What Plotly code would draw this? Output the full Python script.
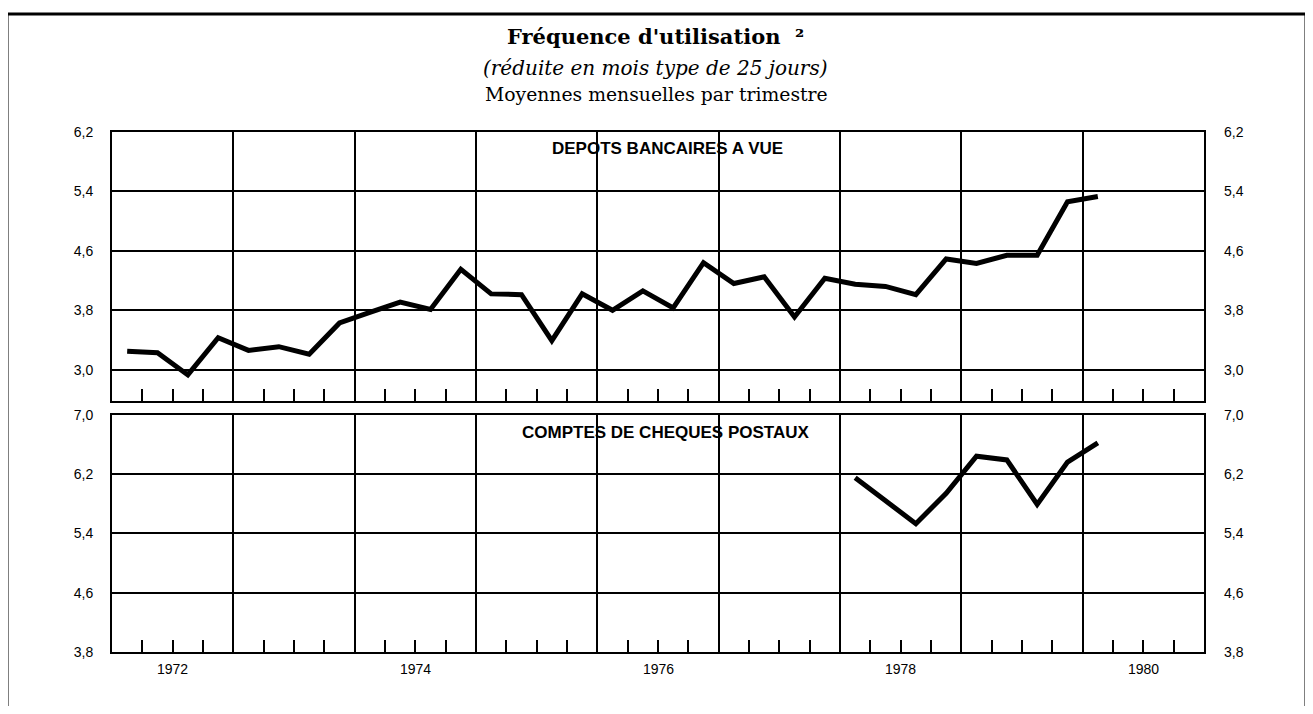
import plotly.graph_objects as go

# ---------------- data ----------------
years = [1972, 1973, 1974, 1975, 1976, 1977, 1978, 1979, 1980]
label_years = [1972, 1974, 1976, 1978, 1980]

# DEPOTS BANCAIRES A VUE, quarterly from 1972 T1 to 1980 T1
depots_start = (1972, 1)
depots = [3.25, 3.23, 2.93, 3.43, 3.26, 3.31, 3.21, 3.63,
          3.77, 3.91, 3.81, 4.35, 4.02, 4.01, 3.39, 4.02,
          3.80, 4.06, 3.83, 4.44, 4.16, 4.25, 3.71, 4.23,
          4.15, 4.12, 4.01, 4.49, 4.43, 4.54, 4.54, 5.26,
          5.33]

# COMPTES DE CHEQUES POSTAUX, quarterly from 1978 T1 to 1980 T1
ccp_start = (1978, 1)
ccp = [6.15, 5.84, 5.53, 5.94, 6.44, 6.39, 5.79, 6.36, 6.62]

top_ticks = [3.0, 3.8, 4.6, 5.4, 6.2]
bot_ticks = [3.8, 4.6, 5.4, 6.2, 7.0]


def quarter_x(start, n):
    y0, q0 = start
    out = []
    for i in range(n):
        k = (q0 - 1) + i
        out.append(y0 + k // 4 + ((k % 4) + 0.5) / 4.0)
    return out


x_dep = quarter_x(depots_start, len(depots))
x_ccp = quarter_x(ccp_start, len(ccp))

# page body has an 8px margin: figure placed at (8, 8)
OFF = 8
FW, FH = 1313 - 2 * OFF, 714 - 2 * OFF


def px(x):
    return (x - OFF) / FW


def py(y):
    return 1 - (y - OFF) / FH


SANS = "Liberation Sans, Arial, sans-serif"
TICKFONT = dict(family=SANS, size=14, color="black")
SERIF = "DejaVu Serif, Liberation Serif, serif"

fig = go.Figure()
line_style = dict(color="black", width=5)
fig.add_trace(go.Scatter(x=x_dep, y=depots, mode="lines", line=line_style,
                         xaxis="x2", yaxis="y2", showlegend=False, hoverinfo="skip"))
fig.add_trace(go.Scatter(x=x_ccp, y=ccp, mode="lines", line=line_style,
                         xaxis="x", yaxis="y", showlegend=False, hoverinfo="skip"))
# invisible traces for the right-hand axes
fig.add_trace(go.Scatter(x=x_dep, y=depots, mode="lines", line=dict(color="rgba(0,0,0,0)", width=0),
                         xaxis="x2", yaxis="y4", showlegend=False, hoverinfo="skip"))
fig.add_trace(go.Scatter(x=x_ccp, y=ccp, mode="lines", line=dict(color="rgba(0,0,0,0)", width=0),
                         xaxis="x", yaxis="y3", showlegend=False, hoverinfo="skip"))

xdom = [px(112), px(1204)]
ydom_bot = [py(659), py(416)]
ydom_top = [py(402), py(126.5)]

xcommon = dict(
    domain=xdom, range=[years[0], years[-1] + 1], tickmode="linear", tick0=years[0], dtick=1,
    showgrid=True, gridcolor="black", gridwidth=1.5, showticklabels=False, ticks="",
    zeroline=False, showline=True, mirror=True, linecolor="black", linewidth=2,
    minor=dict(tickmode="linear", tick0=years[0], dtick=0.25, ticks="inside", ticklen=12,
               tickwidth=1.5, tickcolor="black", showgrid=False),
)

ycommon = dict(
    tickmode="array", tickformat=".1f", showgrid=True, gridcolor="black", gridwidth=2,
    zeroline=False, showline=True, mirror=True, linecolor="black", linewidth=2,
    ticks="", tickfont=TICKFONT, ticklabelstandoff=14,
)

fig.update_layout(
    width=FW, height=FH,
    margin=dict(l=0, r=0, t=0, b=0),
    paper_bgcolor="white", plot_bgcolor="white",
    separators=", ",
    xaxis=dict(**xcommon, anchor="y"),
    xaxis2=dict(**xcommon, anchor="y2", matches="x"),
    yaxis=dict(**ycommon, domain=ydom_bot, range=[3.8, 7.0], tickvals=bot_ticks, anchor="x"),
    yaxis2=dict(**ycommon, domain=ydom_top, range=[2.58, 6.2], tickvals=top_ticks, anchor="x2"),
    yaxis3=dict(overlaying="y", side="right", anchor="x", range=[3.8, 7.0], tickvals=bot_ticks,
                tickformat=".1f", showgrid=False, zeroline=False, showline=False, ticks="",
                tickfont=TICKFONT, ticklabelstandoff=19),
    yaxis4=dict(overlaying="y2", side="right", anchor="x2", range=[2.58, 6.2], tickvals=top_ticks,
                tickformat=".1f", showgrid=False, zeroline=False, showline=False, ticks="",
                tickfont=TICKFONT, ticklabelstandoff=19),
)

annotations = []
for yr in label_years:
    annotations.append(dict(x=yr + 0.5, xref="x", y=py(676), yref="paper",
                            text=str(yr), showarrow=False, font=TICKFONT,
                            xanchor="center", yanchor="middle"))

annotations += [
    dict(x=px(655), y=py(29), xref="paper", yref="paper", showarrow=False,
         text="<b>Fréquence d'utilisation\u00a0\u00a0²</b>",
         font=dict(family=SERIF, size=21, color="black"), xanchor="center", yanchor="middle"),
    dict(x=px(655), y=py(61), xref="paper", yref="paper", showarrow=False,
         text="<i>(réduite en mois type de 25 jours)</i>",
         font=dict(family=SERIF, size=20, color="black"), xanchor="center", yanchor="middle"),
    dict(x=px(656), y=py(88), xref="paper", yref="paper", showarrow=False,
         text="Moyennes mensuelles par trimestre",
         font=dict(family=SERIF, size=18.8, color="black"), xanchor="center", yanchor="middle"),
    dict(x=px(667), y=py(144), xref="paper", yref="paper", showarrow=False,
         text="<b>DEPOTS BANCAIRES A VUE</b>",
         font=dict(family=SANS, size=17, color="black"),
         xanchor="center", yanchor="middle"),
    dict(x=px(665), y=py(434), xref="paper", yref="paper", showarrow=False,
         text="<b>COMPTES DE CHEQUES POSTAUX</b>",
         font=dict(family=SANS, size=17, color="black"),
         xanchor="center", yanchor="middle"),
]
fig.update_layout(annotations=annotations)

# outer frame (open at the bottom)
frame = dict(type="path", xref="paper", yref="paper",
             path=f"M {px(7)},-0.1 L {px(7)},{py(6)} L {px(1306)},{py(6)} L {px(1306)},-0.1",
             line=dict(color="black", width=3))
fig.update_layout(shapes=[frame])

fig.write_html("out.html")
